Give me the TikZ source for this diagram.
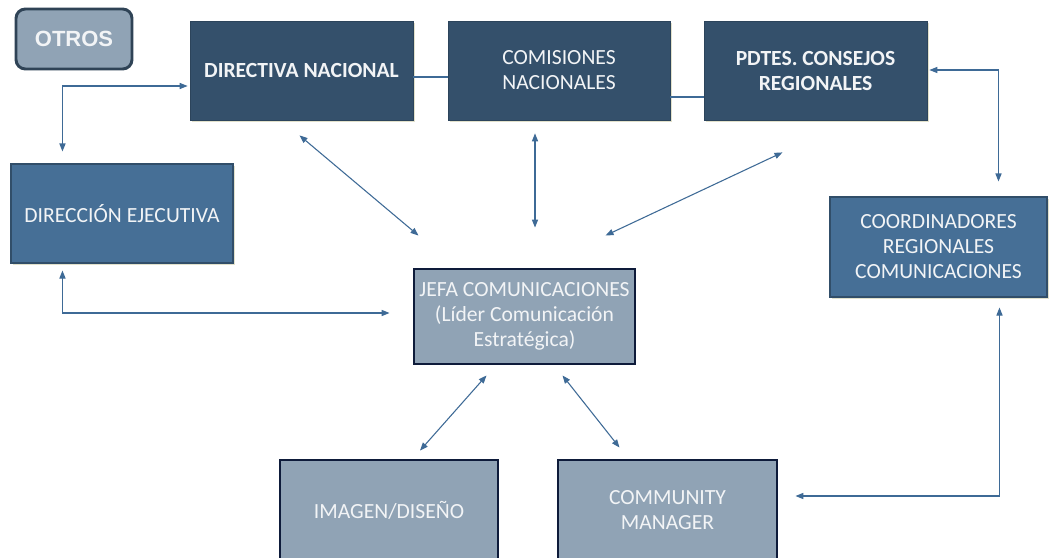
\documentclass[tikz,border=0pt]{standalone}
\usepackage{fontspec}
\setmainfont{Carlito}
\newfontfamily\arialb{Liberation Sans}
\usetikzlibrary{arrows.meta,calc,shadows}
\definecolor{darkbox}{HTML}{34506B}
\definecolor{midbox}{HTML}{466F96}
\definecolor{greybox}{HTML}{90A3B5}
\definecolor{navyedge}{HTML}{0E1B3A}
\definecolor{otrosedge}{HTML}{2F4356}
\definecolor{linkc}{HTML}{3E6A96}
\definecolor{txt}{HTML}{F2F4F6}
\tikzset{
  box/.style={rectangle, inner sep=0pt, align=center, text=txt,
    font=\fontsize{16.2}{18.75}\selectfont},
  boldtxt/.style={font=\bfseries\fontsize{16.2}{18.75}\selectfont},
  darkb/.style={box, fill=darkbox, draw=darkbox!85!black, line width=0.6pt,
    drop shadow={shadow xshift=1.8pt, shadow yshift=-1.8pt, fill=black!45!yellow, opacity=0.28}},
  midb/.style={box, fill=midbox, draw=midbox!70!black, line width=0.8pt,
    drop shadow={shadow xshift=1.8pt, shadow yshift=-1.8pt, fill=black!45!yellow, opacity=0.28}},
  greyb/.style={box, fill=greybox, draw=navyedge, line width=2.2pt},
  link/.style={draw=linkc, line width=0.8pt},
  arr/.style={link, {Triangle[length=6pt,width=4.6pt]}-{Triangle[length=6pt,width=4.6pt]}},
}
\begin{document}
\begin{tikzpicture}[x=0.75pt,y=-0.75pt]
\useasboundingbox (0,0) rectangle (1049,557);
\clip (0,0) rectangle (1049,557);
\fill[white] (0,0) rectangle (1049,557);

\node[box, fill=greybox, draw=otrosedge, line width=2.2pt, rounded corners=7pt,
  minimum width=116*0.75pt, minimum height=60*0.75pt,
  font=\arialb\bfseries\fontsize{16.5}{18}\selectfont] (otros) at (74,39) {OTROS};

\node[darkb, boldtxt, minimum width=223*0.75pt, minimum height=99*0.75pt]
  (dirnac) at (301.5,70.5) {DIRECTIVA NACIONAL};
\node[darkb, minimum width=222*0.75pt, minimum height=99*0.75pt]
  (comis) at (559,70.5) {COMISIONES\\NACIONALES};
\node[darkb, boldtxt, minimum width=223*0.75pt, minimum height=99*0.75pt]
  (pdtes) at (815.5,70.5) {PDTES. CONSEJOS\\REGIONALES};

\node[midb, minimum width=222*0.75pt, minimum height=99*0.75pt]
  (direje) at (122,213.5) {DIRECCIÓN EJECUTIVA};
\node[midb, minimum width=217*0.75pt, minimum height=100*0.75pt]
  (coord) at (938.5,247) {COORDINADORES\\REGIONALES\\COMUNICACIONES};

\node[greyb, minimum width=221*0.75pt, minimum height=95*0.75pt]
  (jefa) at (524.5,316.5) {JEFA COMUNICACIONES\\(Líder Comunicación\\Estratégica)};
\node[greyb, minimum width=218*0.75pt, minimum height=100*0.75pt]
  (imagen) at (389,510) {IMAGEN/DISEÑO};
\node[greyb, minimum width=219*0.75pt, minimum height=100*0.75pt]
  (comm) at (667.5,510) {COMMUNITY\\MANAGER};

% plain links
\draw[link] ($(dirnac.east)+(0,6.5)$) -- ($(comis.west)+(0,6.5)$);
\draw[link] ($(comis.east)+(0,26.5)$) -- ($(pdtes.west)+(0,26.5)$);

% arrows
\draw[arr] ($(direje.north west)+(52,-12)$) |- ($(dirnac.west)+(-2,15.5)$);
\draw[arr] ($(direje.south west)+(52,7)$) |- ($(jefa.west)+(-23,-3.5)$);
\draw[arr] ($(dirnac.south)+(-2,15)$) -- ($(jefa.north)+(-106,-32)$);
\draw[arr] ($(comis.south)+(-24,13)$) -- ($(jefa.north)+(10.5,-40)$);
\draw[arr] ($(pdtes.south)+(-33,32)$) -- ($(jefa.north)+(81,-32)$);
\draw[arr] ($(pdtes.east)+(2,-0.5)$) -| ($(coord.north)+(60,-15)$);
\draw[arr] ($(coord.south)+(61,10)$) |- ($(comm.east)+(17,-14)$);
\draw[arr] ($(jefa.south)+(-38,10)$) -- ($(imagen.north)+(31,-8)$);
\draw[arr] ($(jefa.south)+(38,10)$) -- ($(comm.north)+(-48,-11)$);
\end{tikzpicture}
\end{document}
